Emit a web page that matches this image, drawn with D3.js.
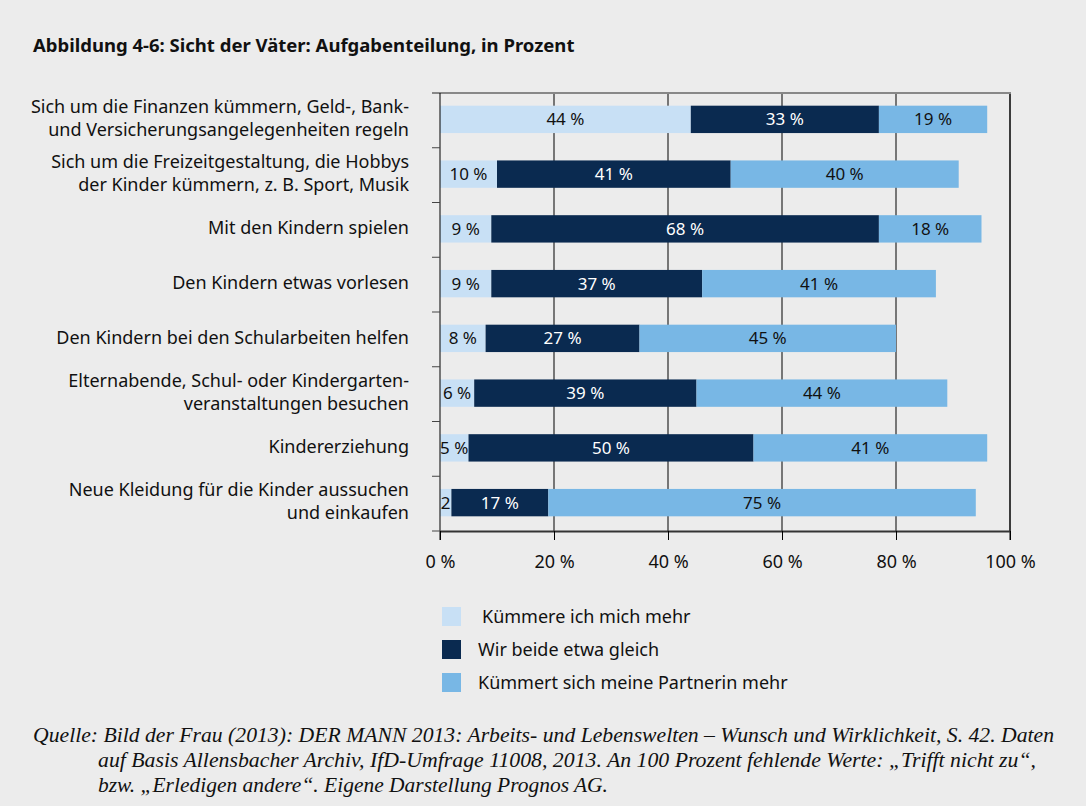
<html>
<script src="https://d3js.org/d3.v7.min.js"></script>
<style>
body { margin: 0; background-color: #ececec; }
text { font-family: "Noto Sans", sans-serif; }
</style>
<body>
<script>
// data
var categories = [
  ["Sich um die Finanzen kümmern, Geld-, Bank-", "und Versicherungsangelegenheiten regeln"],
  ["Sich um die Freizeitgestaltung, die Hobbys", "der Kinder kümmern, z. B. Sport, Musik"],
  ["Mit den Kindern spielen"],
  ["Den Kindern etwas vorlesen"],
  ["Den Kindern bei den Schularbeiten helfen"],
  ["Elternabende, Schul- oder Kindergarten-", "veranstaltungen besuchen"],
  ["Kindererziehung"],
  ["Neue Kleidung für die Kinder aussuchen", "und einkaufen"]
];
var seriesNames = ["Kümmere ich mich mehr", "Wir beide etwa gleich", "Kümmert sich meine Partnerin mehr"];
var ichMehr   = [44, 10, 9, 9, 8, 6, 5, 2];
var beide     = [33, 41, 68, 37, 27, 39, 50, 17];
var partnerin = [19, 40, 18, 41, 45, 44, 41, 75];
var xTicks = [0, 20, 40, 60, 80, 100];
var colors = ["#c8e0f5", "#0a2a50", "#78b7e5"];

var W = 1086, H = 806;
var svg = d3.select("body").append("svg").attr("width", W).attr("height", H);

svg.append("text").attr("x", 33).attr("y", 52)
  .style("font-size", "18.5px").style("font-weight", "bold").attr("fill", "#111")
  .text("Abbildung 4-6: Sicht der Väter: Aufgabenteilung, in Prozent");

var x = d3.scaleLinear().domain([0, 100]).range([440, 1010]);
var y = d3.scaleBand().domain(d3.range(categories.length)).range([92, 530]).paddingInner(0.5).paddingOuter(0.25);

// gridlines
svg.selectAll(".grid").data(xTicks.slice(1)).enter().append("line")
  .attr("x1", function(d) { return x(d); }).attr("x2", function(d) { return x(d); })
  .attr("y1", 93).attr("y2", 531).attr("stroke", "#000").attr("stroke-width", 1);
svg.append("line").attr("x1", 1010).attr("x2", 1010).attr("y1", 93).attr("y2", 540).attr("stroke", "#000");
// top border
svg.append("line").attr("x1", 432).attr("x2", 1011).attr("y1", 93).attr("y2", 93)
  .attr("stroke", "#888").attr("stroke-width", 2);

// stacked bars
var rows = categories.map(function(c, i) {
  var vals = [ichMehr[i], beide[i], partnerin[i]];
  var x0 = 0;
  return vals.map(function(v, k) {
    var seg = { row: i, k: k, v: v, start: x0, end: x0 + v };
    x0 += v;
    return seg;
  });
});
var segs = [].concat.apply([], rows);

svg.selectAll(".seg").data(segs).enter().append("rect")
  .attr("x", function(d) { return x(d.start); })
  .attr("width", function(d) { return x(d.end) - x(d.start); })
  .attr("y", function(d) { return y(d.row); })
  .attr("height", y.bandwidth())
  .attr("fill", function(d) { return colors[d.k]; });

svg.selectAll(".lbl").data(segs).enter().append("text")
  .attr("x", function(d) { return (x(d.start) + x(d.end)) / 2; })
  .attr("y", function(d) { return y(d.row) + y.bandwidth() / 2; })
  .attr("dy", "0.36em")
  .attr("text-anchor", "middle")
  .style("font-size", "17px")
  .attr("fill", function(d) { return d.k == 1 ? "#fff" : "#111"; })
  .text(function(d) { return d.v < 3 ? d.v : d.v + " %"; });

// axes
var xAxis = svg.append("g").attr("transform", "translate(0,531)")
  .call(d3.axisBottom(x).tickValues(xTicks).tickSize(9).tickSizeOuter(0).tickPadding(15)
    .tickFormat(function(d) { return d + " %"; }));
xAxis.select(".domain").attr("stroke", "#333").attr("stroke-width", 2);
xAxis.selectAll(".tick line").attr("stroke", "#000");
xAxis.selectAll("text").style("font-size", "18px").attr("fill", "#111")
  .style("font-family", "Noto Sans, sans-serif");

var yTicks = d3.range(categories.length + 1).map(function(i) { return 93 + i * (438 / 8); });
svg.append("line").attr("x1", 440).attr("x2", 440).attr("y1", 93).attr("y2", 540).attr("stroke", "#000");
svg.selectAll(".ytick").data(yTicks.slice(1)).enter().append("line")
  .attr("x1", 432).attr("x2", 440)
  .attr("y1", function(d) { return d; }).attr("y2", function(d) { return d; })
  .attr("stroke", "#444");

// category labels
var catG = svg.selectAll(".cat").data(categories).enter().append("text")
  .attr("text-anchor", "end").style("font-size", "18px").attr("fill", "#111")
  .attr("transform", function(d, i) { return "translate(409," + (y(i) + y.bandwidth() / 2 - 1) + ")"; });
catG.selectAll("tspan").data(function(d) { return d; }).enter().append("tspan")
  .attr("x", 0)
  .attr("y", function(t, j, nodes) { var n = nodes.length; return (j - (n - 1) / 2) * 23; })
  .attr("dy", "0.35em")
  .text(function(t) { return t; });

// legend
var leg = svg.selectAll(".leg").data(seriesNames).enter().append("g")
  .attr("transform", function(d, i) { return "translate(442," + (607 + i * 33) + ")"; });
leg.append("rect").attr("width", 19).attr("height", 19).attr("fill", function(d, i) { return colors[i]; });
leg.append("text").attr("x", function(d, i) { return i == 0 ? 40 : 36; }).attr("y", 10).attr("dy", "0.36em")
  .style("font-size", "18px").attr("fill", "#111").text(function(d) { return d; });

// source note
var srcLines = [
  { x: 33, len: 1021, t: "Quelle: Bild der Frau (2013): DER MANN 2013: Arbeits- und Lebenswelten \u2013 Wunsch und Wirklichkeit, S. 42. Daten" },
  { x: 98, len: 938, t: "auf Basis Allensbacher Archiv, IfD-Umfrage 11008, 2013. An 100 Prozent fehlende Werte: \u201eTrifft nicht zu\u201c," },
  { x: 98, len: 510, t: "bzw. \u201eErledigen andere\u201c. Eigene Darstellung Prognos AG." }
];
svg.selectAll(".src").data(srcLines).enter().append("text")
  .attr("x", function(d) { return d.x; })
  .attr("y", function(d, i) { return 742 + i * 25; })
  .attr("textLength", function(d) { return d.len; })
  .attr("lengthAdjust", "spacingAndGlyphs")
  .style("font-size", "20px").style("font-style", "italic")
  .style("font-family", "Liberation Serif, serif").attr("fill", "#111")
  .text(function(d) { return d.t; });
</script>
</body>
</html>
